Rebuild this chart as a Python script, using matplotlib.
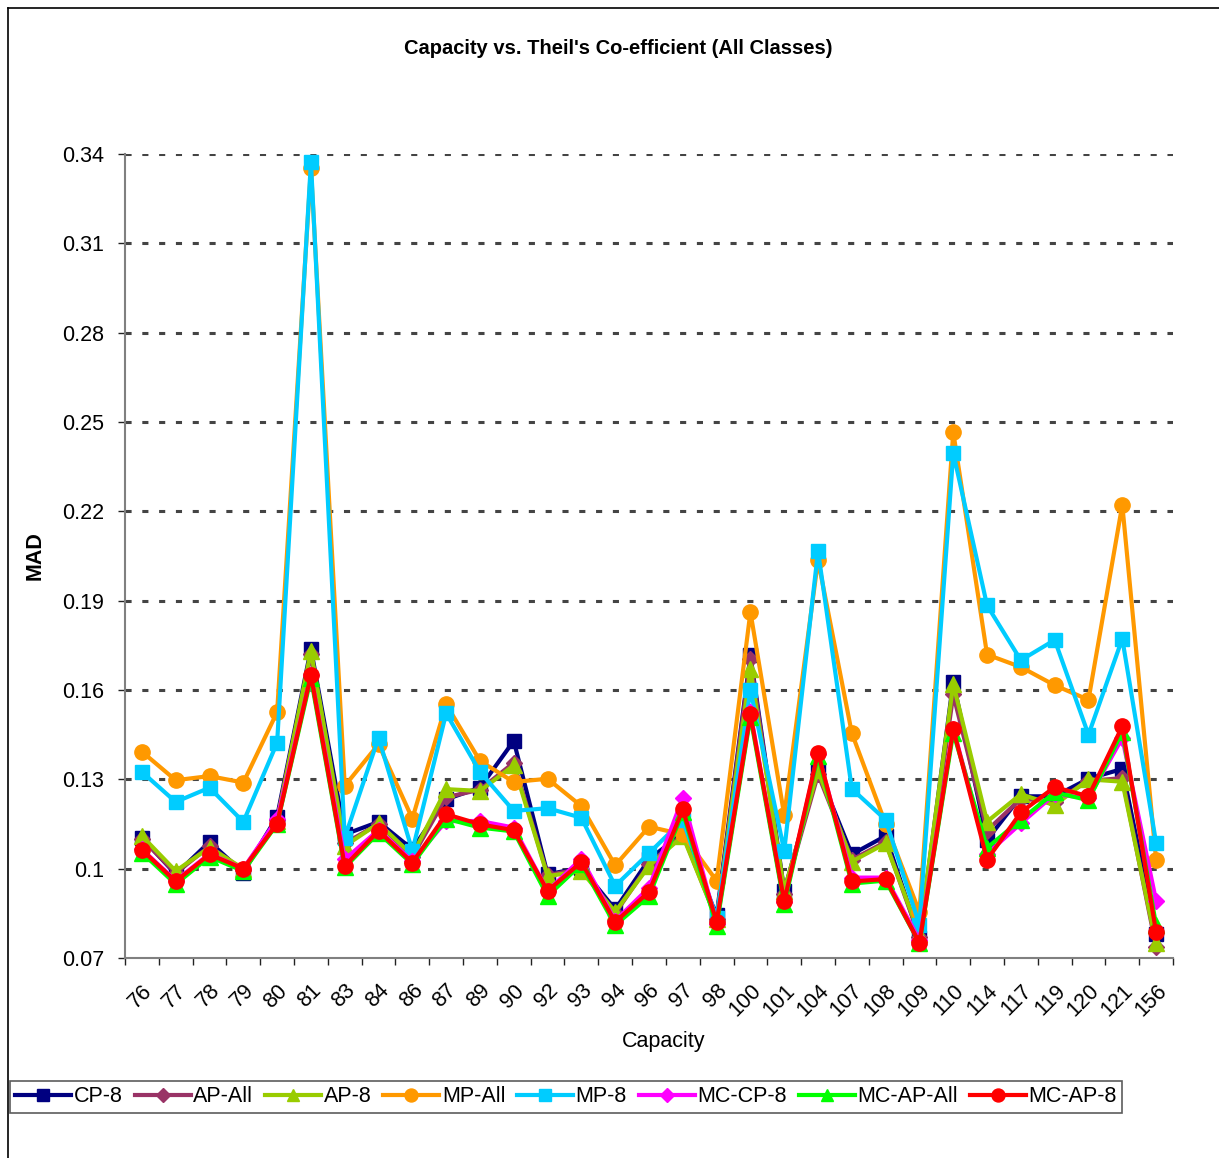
import numpy as np
import matplotlib
matplotlib.use("Agg")
import matplotlib.pyplot as plt
from matplotlib.lines import Line2D

plt.rcParams['font.family'] = ['Liberation Sans', 'DejaVu Sans']

# %% data
capacity = ['76', '77', '78', '79', '80', '81', '83', '84', '86', '87', '89', '90', '92', '93', '94', '96',
            '97', '98', '100', '101', '104', '107', '108', '109', '110', '114', '117', '119', '120', '121', '156']

cp_8 = [0.1104, 0.0981, 0.1090, 0.0987, 0.1175, 0.1739, 0.1115, 0.1157, 0.1065, 0.1233, 0.1272, 0.1429,
        0.0981, 0.1003, 0.0863, 0.1031, 0.1120, 0.0843, 0.1716, 0.0926, 0.1330, 0.1048, 0.1110, 0.0768,
        0.1628, 0.1097, 0.1243, 0.1243, 0.1302, 0.1335, 0.0782]
ap_all = [0.1100, 0.0985, 0.1075, 0.0995, 0.1165, 0.1720, 0.1085, 0.1150, 0.1040, 0.1240, 0.1265, 0.1356,
          0.0978, 0.1000, 0.0850, 0.1015, 0.1115, 0.0830, 0.1705, 0.0915, 0.1317, 0.1030, 0.1090, 0.0770,
          0.1585, 0.1128, 0.1235, 0.1225, 0.1295, 0.1304, 0.0737]
ap_8 = [0.1110, 0.0992, 0.1071, 0.1000, 0.1160, 0.1731, 0.1076, 0.1152, 0.1045, 0.1267, 0.1261, 0.1347,
        0.0975, 0.0992, 0.0855, 0.1009, 0.1110, 0.0830, 0.1670, 0.0926, 0.1330, 0.1024, 0.1085, 0.0780,
        0.1620, 0.1158, 0.1250, 0.1213, 0.1300, 0.1292, 0.0749]
mp_all = [0.1393, 0.1297, 0.1311, 0.1289, 0.1526, 0.3353, 0.1278, 0.1418, 0.1168, 0.1552, 0.1362, 0.1291,
          0.1302, 0.1210, 0.1011, 0.1141, 0.1115, 0.0959, 0.1862, 0.1180, 0.2036, 0.1455, 0.1150, 0.0854,
          0.2466, 0.1719, 0.1677, 0.1616, 0.1567, 0.2222, 0.1030]
mp_8 = [0.1325, 0.1224, 0.1272, 0.1157, 0.1423, 0.3373, 0.1104, 0.1440, 0.1060, 0.1522, 0.1325, 0.1194,
        0.1203, 0.1171, 0.0942, 0.1052, 0.1163, 0.0836, 0.1600, 0.1060, 0.2067, 0.1268, 0.1164, 0.0811,
        0.2396, 0.1884, 0.1700, 0.1768, 0.1450, 0.1772, 0.1087]
mc_cp_8 = [0.1065, 0.0960, 0.1050, 0.1000, 0.1166, 0.1650, 0.1031, 0.1130, 0.1025, 0.1160, 0.1160, 0.1138,
           0.0925, 0.1034, 0.0825, 0.0936, 0.1238, 0.0815, 0.1525, 0.0887, 0.1385, 0.0970, 0.0970, 0.0760,
           0.1470, 0.1050, 0.1152, 0.1250, 0.1237, 0.1439, 0.0892]
mc_ap_all = [0.1054, 0.0948, 0.1040, 0.0992, 0.1150, 0.1640, 0.1004, 0.1120, 0.1015, 0.1168, 0.1138, 0.1125,
             0.0908, 0.1015, 0.0810, 0.0908, 0.1190, 0.0808, 0.1510, 0.0880, 0.1380, 0.0950, 0.0960, 0.0750,
             0.1457, 0.1070, 0.1164, 0.1256, 0.1230, 0.1460, 0.0810]
mc_ap_8 = [0.1063, 0.0957, 0.1048, 0.1000, 0.1151, 0.1650, 0.1009, 0.1127, 0.1020, 0.1183, 0.1149, 0.1129,
           0.0925, 0.1022, 0.0821, 0.0922, 0.1199, 0.0821, 0.1518, 0.0890, 0.1390, 0.0957, 0.0965, 0.0750,
           0.1469, 0.1030, 0.1189, 0.1274, 0.1243, 0.1478, 0.0786]

series = [
    ('CP-8', cp_8, '#000080', 's', 10),
    ('AP-All', ap_all, '#993366', 'D', 8.5),
    ('AP-8', ap_8, '#99CC00', '^', 11),
    ('MP-All', mp_all, '#FF9900', 'o', 11),
    ('MP-8', mp_8, '#00CCFF', 's', 10),
    ('MC-CP-8', mc_cp_8, '#FF00FF', 'D', 8.5),
    ('MC-AP-All', mc_ap_all, '#00FF00', '^', 11),
    ('MC-AP-8', mc_ap_8, '#FF0000', 'o', 11),
]

fs = 15.5

# %% draw
fig = plt.figure(figsize=(12.19, 11.58), dpi=100)
ax = fig.add_axes([125 / 1219, 1 - 958 / 1158, 1048 / 1219, 804 / 1158])

x = np.arange(len(capacity))
for name, y, c, m, ms in series:
    ax.plot(x, y, color=c, lw=3, marker=m, ms=ms, mfc=c, mec=c, label=name)

ax.set_xlim(-0.5, len(capacity) - 0.5)
ax.set_ylim(0.07, 0.34)
yt = [0.07, 0.1, 0.13, 0.16, 0.19, 0.22, 0.25, 0.28, 0.31, 0.34]
ax.set_yticks(yt)
ax.set_yticklabels(['0.07', '0.1', '0.13', '0.16', '0.19', '0.22', '0.25', '0.28', '0.31', '0.34'], fontsize=fs)
for v in yt[1:]:
    ax.axhline(v, color='#444444', lw=2.2, ls=(0, (2, 3.5)), zorder=0.5)

ax.set_xticks(x)
ax.set_xticklabels(capacity, rotation=45, ha='right', va='top', rotation_mode='anchor', fontsize=fs)
ax.set_xticks(np.arange(len(capacity) + 1) - 0.5, minor=True)
ax.tick_params(axis='x', which='major', length=0, pad=16)
ax.tick_params(axis='x', which='minor', length=5, width=1, color='#222222')
ax.tick_params(axis='y', length=5, width=1, color='#222222', pad=10)

for s in ['top', 'right']:
    ax.spines[s].set_visible(False)
ax.spines['left'].set_color('#808080')
ax.spines['left'].set_linewidth(1.5)
ax.spines['bottom'].set_color('#808080')
ax.spines['bottom'].set_linewidth(1.5)

ax.set_xlabel('Capacity', fontsize=fs, va='center')
ax.xaxis.set_label_coords((664 - 125) / 1048, (958 - 1042) / 804)
ax.set_ylabel('MAD', fontsize=fs, fontweight='bold', labelpad=12)
fig.text(618 / 1219, 1 - 48 / 1158, "Capacity vs. Theil's Co-efficient (All Classes)",
         ha='center', va='center', fontsize=14.5, fontweight='bold')

leg = fig.legend(loc='upper left', bbox_to_anchor=(10 / 1219, 1 - 1081 / 1158), ncol=8,
                 fontsize=fs, frameon=True, fancybox=False, edgecolor='#333333',
                 handlelength=2.6, handletextpad=0.12, columnspacing=0.55, borderpad=0.25,
                 borderaxespad=0, markerscale=0.85)
leg.get_frame().set_linewidth(1.2)

# outer chart border (top and left edges visible)
fig.add_artist(Line2D([8 / 1219, 8 / 1219], [0, 1 - 8 / 1158], color='black', lw=1.2))
fig.add_artist(Line2D([8 / 1219, 1], [1 - 8 / 1158, 1 - 8 / 1158], color='black', lw=1.2))

fig.savefig('out.png', dpi=100)
